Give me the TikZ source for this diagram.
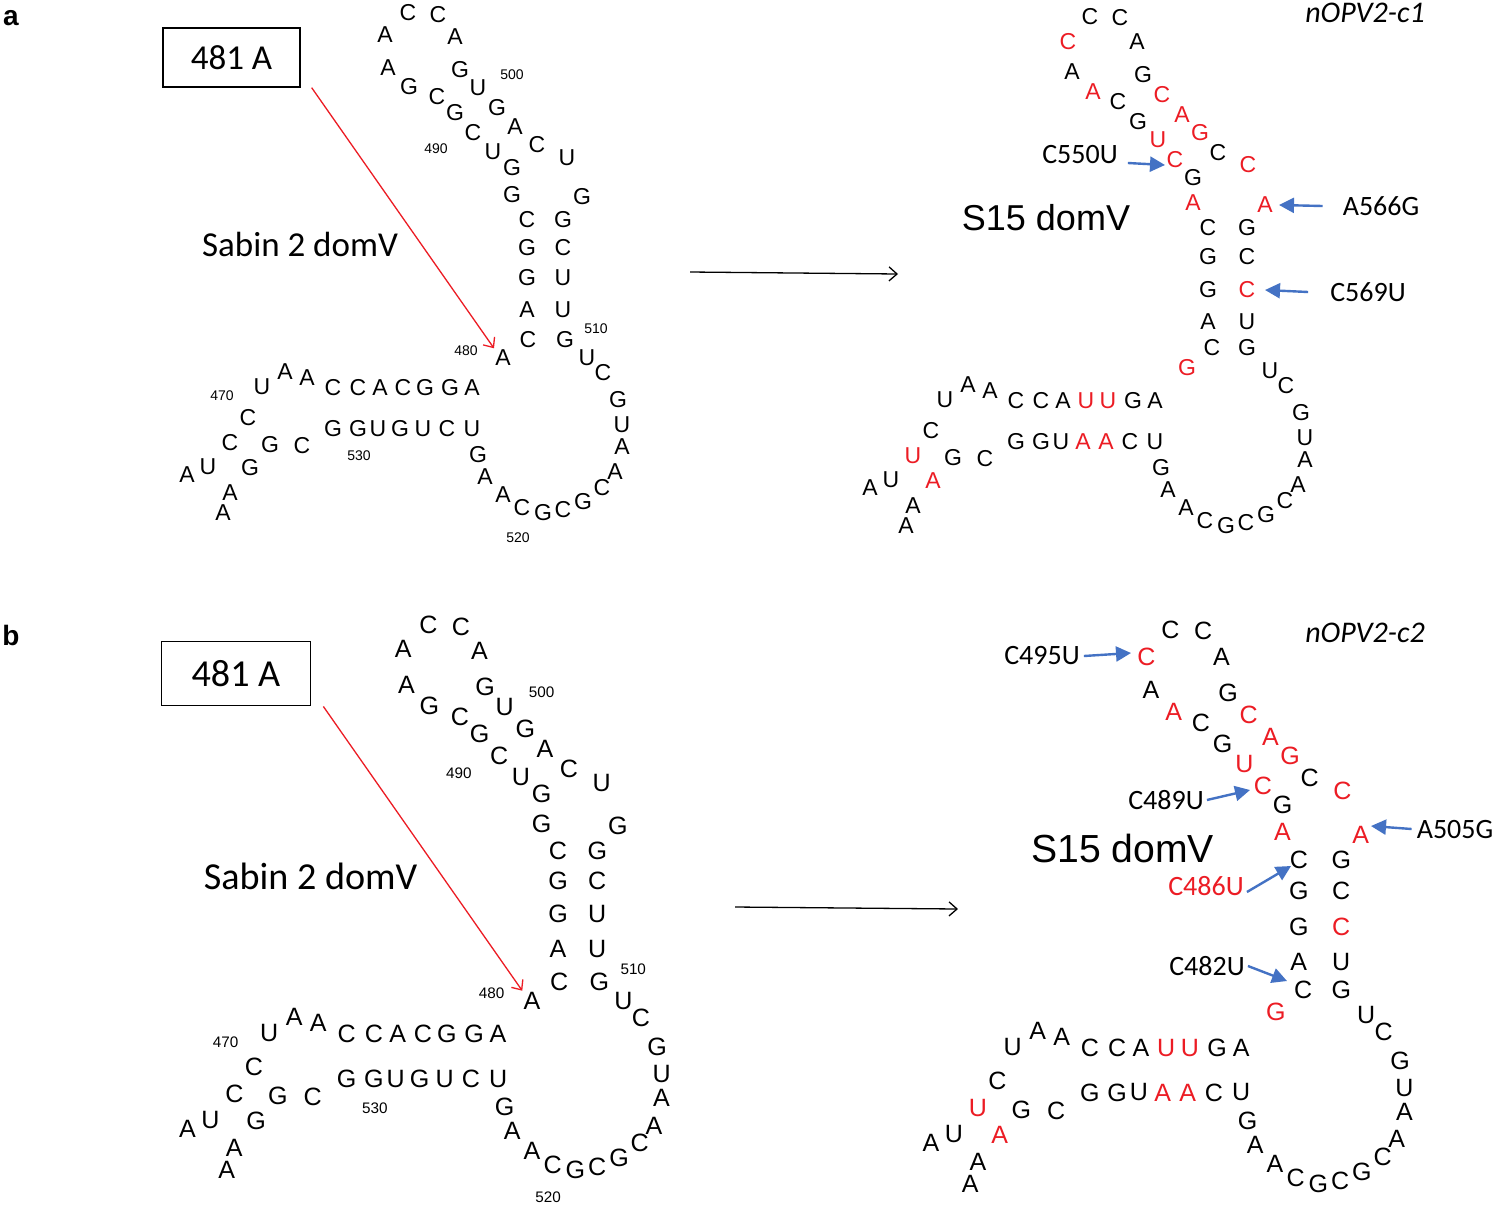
\documentclass[tikz,border=0pt]{standalone}
\usepackage{fontspec}
\setmainfont{Liberation Sans}
\newfontfamily\calfont{Carlito}
\usetikzlibrary{arrows.meta}
\definecolor{rnared}{RGB}{236,28,36}
\definecolor{arrblue}{RGB}{68,114,196}
\def\leftlist{408/13/C,438/15/C,385/35/A,455/37/A,388/68/A,460/70/G,409/87/G,478/88/U,437/97/C,497/108/G,455/113/G,515/127/A,473/133/C,537/145/C,493/152/U,567/158/U,512/168/G,512/195/G,582/197/G,527/220/C,563/220/G,527/248/G,563/248/C,527/278/G,563/278/U,527/310/A,563/310/U,528/340/C,565/340/G,587/358/U,603/373/C,618/400/G,622/425/U,622/447/A,615/472/A,602/488/C,583/502/G,563/510/C,543/513/G,522/508/C,503/495/A,485/477/A,478/455/G,333/388/C,358/388/C,380/388/A,403/388/C,425/388/G,450/388/G,472/388/A,333/429/G,358/429/G,378/429/U,400/429/G,423/429/U,447/429/C,472/429/U,262/387/U,285/372/A,307/378/A,248/418/C,230/443/C,270/445/G,302/446/C,187/475/A,208/467/U,250/468/G,230/493/A,223/513/A}
\def\rightlist{1090/17/C/black,1120/18/C/black,1068/42/C/rnared,1137/42/A/black,1072/72/A/black,1143/75/G/black,1093/92/A/rnared,1162/95/C/rnared,1118/102/C/black,1182/115/A/rnared,1138/122/G/black,1200/133/G/rnared,1158/140/U/rnared,1218/153/C/black,1175/160/C/rnared,1248/165/C/rnared,1193/178/G/black,1193/203/A/rnared,1265/205/A/rnared,1208/228/C/black,1247/228/G/black,1208/257/G/black,1247/257/C/black,1208/290/G/black,1247/290/C/rnared,1208/322/A/black,1247/322/U/black,1212/348/C/black,1247/348/G/black,1187/368/G/rnared,1270/371/U/black,1286/386/C/black,1301/413/G/black,1305/438/U/black,1305/460/A/black,1298/485/A/black,1285/501/C/black,1266/515/G/black,1246/523/C/black,1226/526/G/black,1205/521/C/black,1186/508/A/black,1168/490/A/black,1161/468/G/black,1016/401/C/black,1041/401/C/black,1063/401/A/black,1086/401/U/rnared,1108/401/U/rnared,1133/401/G/black,1155/401/A/black,1016/442/G/black,1041/442/G/black,1061/442/U/black,1083/442/A/rnared,1106/442/A/rnared,1130/442/C/black,1155/442/U/black,945/400/U/black,968/385/A/black,990/391/A/black,931/431/C/black,913/456/U/rnared,953/458/G/black,985/459/C/black,870/488/A/black,891/480/U/black,933/481/A/rnared,913/506/A/black,906/526/A/black}
\tikzset{
 nt/.style={font=\fontsize{23}{23}\selectfont, inner sep=0pt},
 num/.style={font=\fontsize{14}{14}\selectfont, inner sep=0pt},
 lab/.style={font=\calfont\fontsize{28}{28}\selectfont, inner sep=0pt},
 big/.style={font=\calfont\fontsize{35}{35}\selectfont, inner sep=0pt},
 blk/.style={line width=1.3pt, -{Straight Barb[length=8pt,width=14pt]}},
 redarr/.style={blk, draw=rnared},
 blue/.style={draw=arrblue, line width=2.4pt, -{Triangle[length=15pt,width=15pt]}},
 leftrna/.pic={
  \foreach \x/\y/\l [count=\i] in \leftlist {\node[nt] (n\i) at (\x,\y) {\l};}
  \node[nt] (A481) at (503,358) {A};
  \node[num] (m500) at (512,75) {500};
  \node[num] (m490) at (436,149) {490};
  \node[num] (m510) at (596,329) {510};
  \node[num] (m480) at (466,351) {480};
  \node[num] (m470) at (222,396) {470};
  \node[num] (m530) at (359,456) {530};
  \node[num] (m520) at (518,538) {520};
  \node[big, draw, line width=1.3pt, minimum width=137pt, minimum height=59pt] (box) at (231.5,57.5) {481 A};
  \node[big] (sabin) at (300,244) {Sabin 2 domV};
  \draw[redarr, shorten >=2pt] ([xshift=11pt]box.south east) -- (A481.north west);
 },
 rightrna/.pic={
  \foreach \x/\y/\l/\c [count=\i] in \rightlist {\node[nt, text=\c] (r\i) at (\x,\y) {\l};}
  \node[font=\fontsize{36}{36}\selectfont, inner sep=0pt] (s15) at (1046,218) {S15 domV};
 }
}
\begin{document}
\begin{tikzpicture}[x=1pt,y=-1pt]
\useasboundingbox[fill=white] (0,0) rectangle (1495,1205);
\node[font=\bfseries\fontsize{28}{28}\selectfont, inner sep=0pt] (pa) at (11,18) {a};
\node[font=\bfseries\fontsize{28}{28}\selectfont, inner sep=0pt] (pb) at (11,635) {b};
% panel a
\pic (LA) at (0,0) {leftrna};
\pic (RA) at (0,0) {rightrna};
\coordinate (a1) at (690,272); \coordinate (a2) at (898,274);
\draw[blk] (a1) -- (a2);
\node[font=\calfont\itshape\fontsize{30}{30}\selectfont, inner sep=0pt] (ta) at (1365,13) {nOPV2-c1};
\node[lab] (c550) at (1080,155) {C550U};
\coordinate (e550) at (1165,165);
\draw[blue] ([xshift=10pt,yshift=-8pt]c550.east) -- (e550);
\node[lab] (a566) at (1381,206) {A566G};
\coordinate (e566) at (1279,205);
\draw[blue] ([xshift=-20pt]a566.west) -- (e566);
\node[lab] (c569) at (1368,292) {C569U};
\coordinate (e569) at (1265,290);
\draw[blue] ([xshift=-22pt]c569.west) -- (e569);
% panel b
\begin{scope}[shift={(-16.4,610.9)}, scale=1.09, transform shape]
\pic (LB) at (0,0) {leftrna};
\end{scope}
\begin{scope}[shift={(-15.5,611.5)}, scale=1.088, transform shape]
\pic (RB) at (0,0) {rightrna};
\end{scope}
\coordinate (b1) at (735,907); \coordinate (b2) at (958,909);
\draw[blk] (b1) -- (b2);
\node[font=\calfont\itshape\fontsize{30}{30}\selectfont, inner sep=0pt] (tb) at (1365,633) {nOPV2-c2};
\node[lab] (c495) at (1042,656) {C495U};
\coordinate (e495) at (1131,653);
\draw[blue] ([xshift=4pt]c495.east) -- (e495);
\node[lab] (c489) at (1166,800) {C489U};
\coordinate (e489) at (1250,790);
\draw[blue] ([xshift=3pt]c489.east) -- (e489);
\node[lab] (a505) at (1455,829) {A505G};
\coordinate (e505) at (1371,826);
\draw[blue] ([xshift=-5pt]a505.west) -- (e505);
\node[lab, text=rnared] (c486) at (1206,886) {C486U};
\coordinate (e486) at (1291,866);
\draw[blue] ([xshift=3pt,yshift=-6pt]c486.east) -- (e486);
\node[lab] (c482) at (1207,966) {C482U};
\coordinate (e482) at (1287,981);
\draw[blue] ([xshift=3pt]c482.east) -- (e482);
\end{tikzpicture}
\end{document}
